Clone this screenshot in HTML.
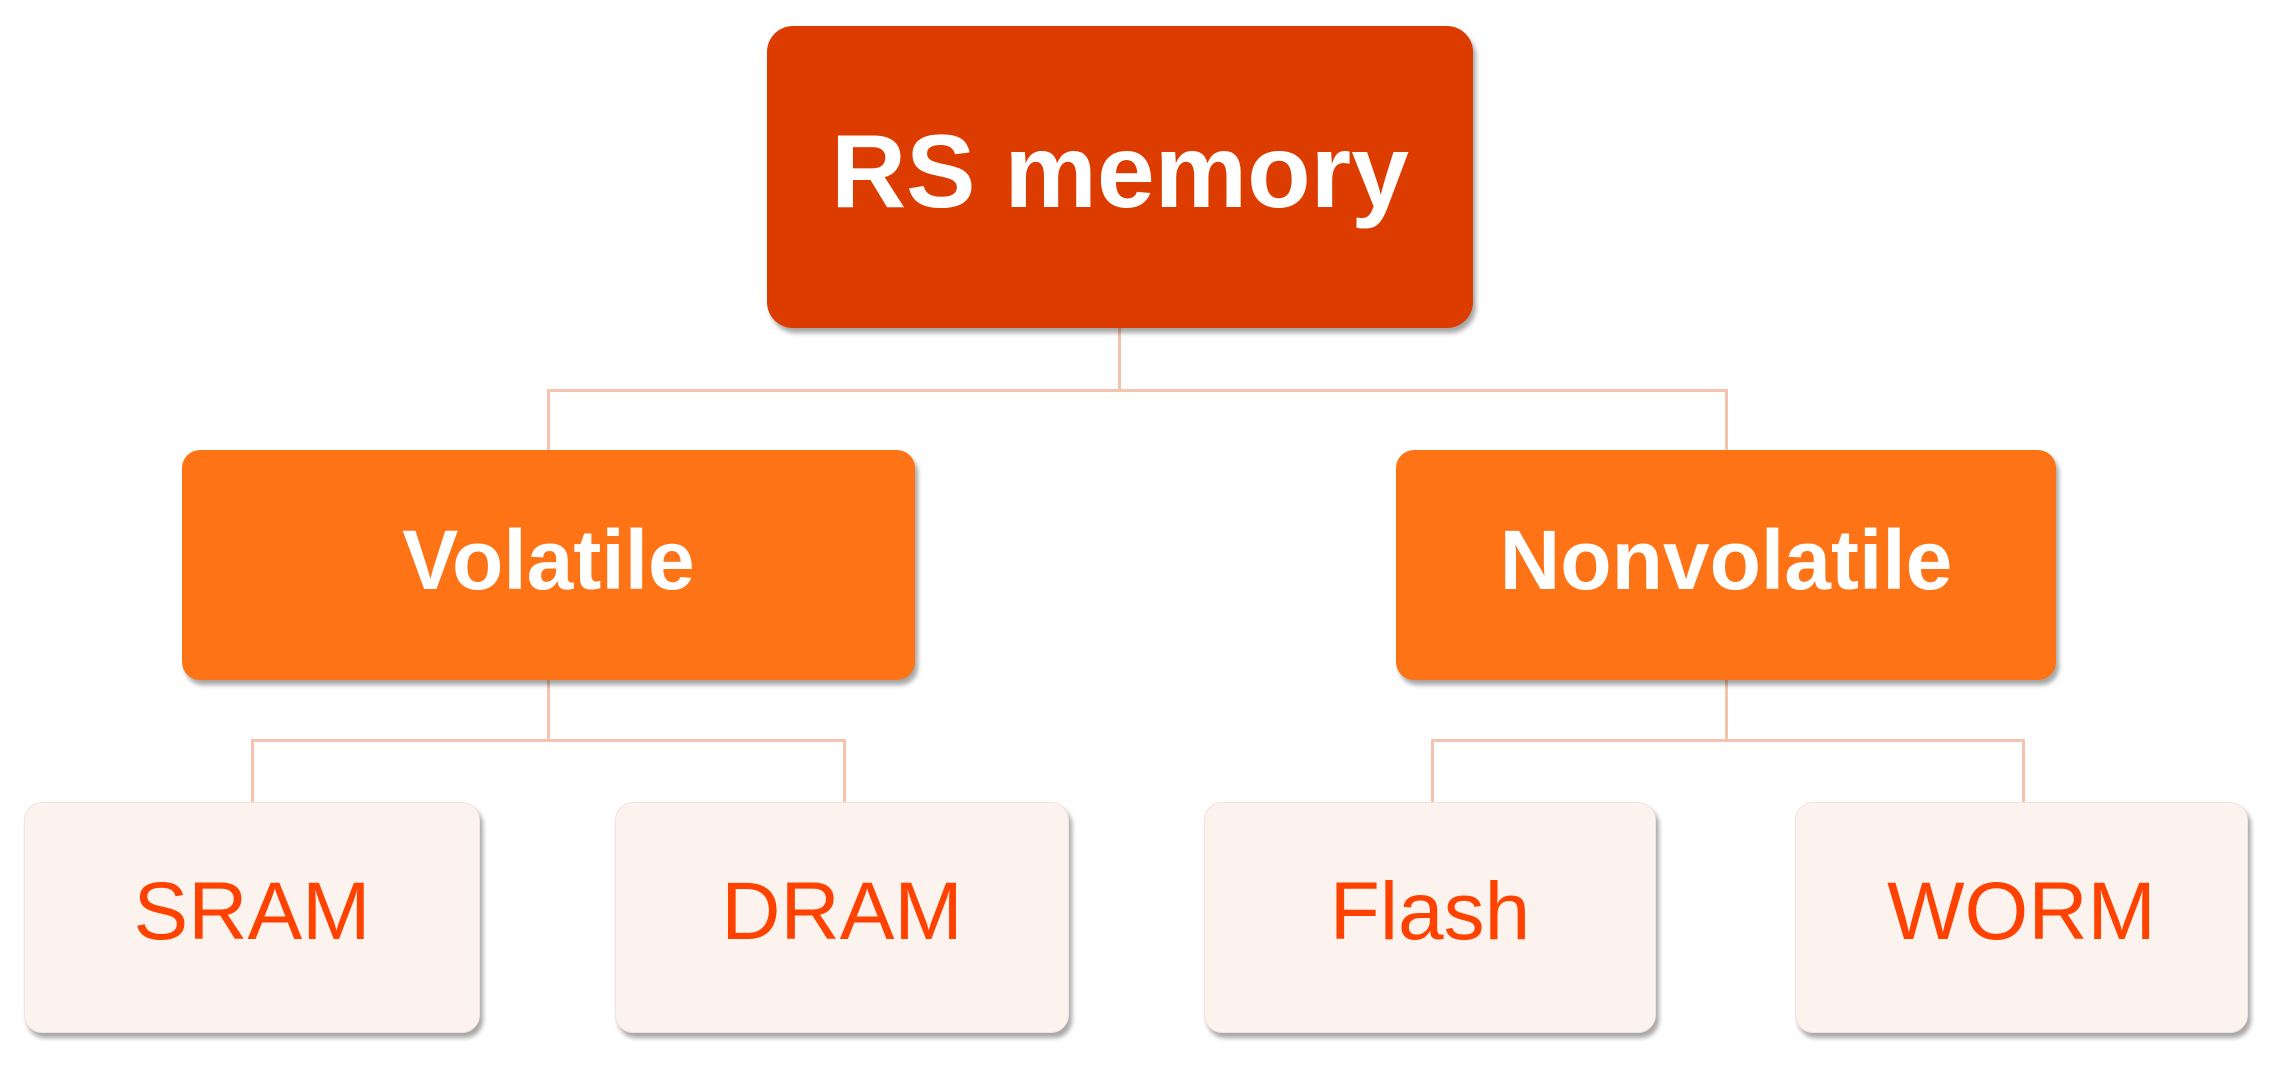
<!DOCTYPE html>
<html><head><meta charset="utf-8"><style>
html,body{margin:0;padding:0;background:#fff;}
body{width:2280px;height:1068px;position:relative;overflow:hidden;font-family:"Liberation Sans",Arial,sans-serif;}
.b{position:absolute;box-sizing:border-box;display:flex;justify-content:center;align-items:center;box-shadow:3px 5px 5px rgba(0,0,0,0.35);}
.root{left:767px;top:26px;width:706px;height:302px;background:#DD3C00;border-radius:26px;color:#fff;font-weight:bold;font-size:104px;}
.mid{top:450px;height:230px;background:#FE7316;border-radius:18px;color:#fff;font-weight:bold;font-size:84px;}
.leaf{top:802px;height:231px;background:#FDF3EE;border-radius:18px;color:#FF4200;font-size:82px;border:1px solid #f5e2d8;}
.l{position:absolute;background:#F4C3AE;}
</style></head><body>
<div class="l" style="left:1118px;top:328px;width:3px;height:63px"></div>
<div class="l" style="left:547px;top:389px;width:1181px;height:3px"></div>
<div class="l" style="left:547px;top:389px;width:3px;height:62px"></div>
<div class="l" style="left:1725px;top:389px;width:3px;height:62px"></div>
<div class="l" style="left:547px;top:680px;width:3px;height:61px"></div>
<div class="l" style="left:251px;top:739px;width:595px;height:3px"></div>
<div class="l" style="left:251px;top:739px;width:3px;height:64px"></div>
<div class="l" style="left:843px;top:739px;width:3px;height:64px"></div>
<div class="l" style="left:1725px;top:680px;width:3px;height:61px"></div>
<div class="l" style="left:1431px;top:739px;width:594px;height:3px"></div>
<div class="l" style="left:1431px;top:739px;width:3px;height:64px"></div>
<div class="l" style="left:2022px;top:739px;width:3px;height:64px"></div>
<div class="b root"><span style="margin-top:-10px">RS memory</span></div>
<div class="b mid" style="left:182px;width:733px"><span style="margin-top:-9px">Volatile</span></div>
<div class="b mid" style="left:1396px;width:660px"><span style="margin-top:-9px">Nonvolatile</span></div>
<div class="b leaf" style="left:24px;width:456px"><span style="margin-top:-11px">SRAM</span></div>
<div class="b leaf" style="left:615px;width:454px"><span style="margin-top:-11px">DRAM</span></div>
<div class="b leaf" style="left:1204px;width:452px"><span style="margin-top:-11px">Flash</span></div>
<div class="b leaf" style="left:1795px;width:453px"><span style="margin-top:-11px">WORM</span></div>
</body></html>
